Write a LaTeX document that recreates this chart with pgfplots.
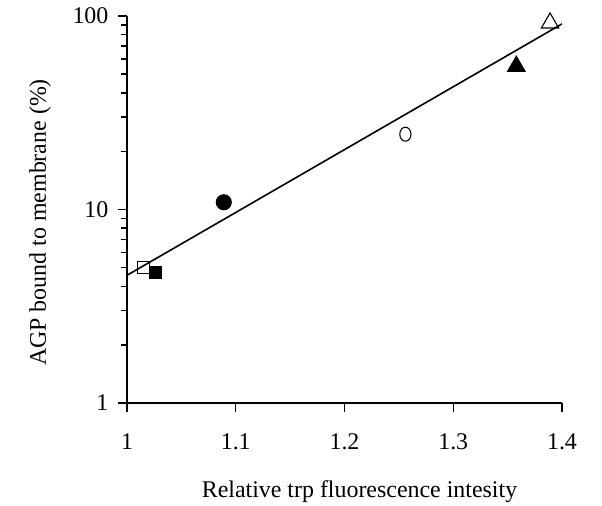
\documentclass[border=0pt]{standalone}
\usepackage{fontspec}
\setmainfont{Liberation Serif}
\usepackage{pgfplots}
\pgfplotsset{compat=1.18}
\begin{document}
\fontsize{24}{28}\selectfont
\begin{tikzpicture}
\begin{semilogyaxis}[
  name=ax,
  scale only axis, width=435bp, height=387bp,
  xmin=1, xmax=1.4, ymin=1, ymax=100,
  line width=1.3bp,
  xtick pos=bottom, ytick pos=left,
  axis line style={draw=none},
  xtick={1,1.1,1.2,1.3,1.4}, xticklabels={1,1.1,1.2,1.3,1.4},
  ytick={1,10,100}, yticklabels={1,10,100},
  minor ytick={2,3,4,5,6,7,8,9,20,30,40,50,60,70,80,90},
  tick align=outside, major tick length=9bp, minor tick length=6bp,
  every tick/.style={line width=1.5bp, black},
  major tick style={line width=1.5bp, black},
  minor tick style={line width=1.5bp, black},
  xticklabel style={yshift=-13bp},
  yticklabel style={xshift=-1bp},
  xlabel={Relative trp fluorescence intesity},
  ylabel={AGP bound to membrane (\%)},
  xlabel style={yshift=-14bp, xshift=15bp},
  ylabel style={yshift=5bp, xshift=-13bp},
  clip=false,
]
% left and bottom axis lines
\draw[line width=1.6bp] (rel axis cs:0,1) -- (rel axis cs:0,0) -- (rel axis cs:1,0);
% fitted regression line
\addplot[black, line width=1.6bp] coordinates {(1.0,4.57) (1.4,91)};
% individual conditions
\addplot[only marks, mark=square, mark size=6bp, mark options={fill=white, line width=1.1bp}] coordinates {(1.015,5.0)};
\addplot[only marks, mark=square*, mark size=6bp, mark options={fill=black, line width=1.1bp}] coordinates {(1.026,4.75)};
\addplot[only marks, mark=*, mark size=7.5bp, mark options={fill=black, line width=1.1bp}] coordinates {(1.089,10.9)};
\addplot[only marks, mark=o, mark size=7bp, mark options={line width=1.1bp, xscale=0.8}] coordinates {(1.256,24.5)};
\addplot[only marks, mark=triangle*, mark size=10bp, mark options={fill=black, line width=1.1bp}] coordinates {(1.358,55)};
\addplot[only marks, mark=triangle, mark size=10bp, mark options={line width=1.1bp}] coordinates {(1.389,92)};
\end{semilogyaxis}
\pgfresetboundingbox
\path ([shift={(-127bp,-103bp)}]ax.south west) rectangle ([shift={(40bp,16bp)}]ax.north east);
\end{tikzpicture}
\end{document}
